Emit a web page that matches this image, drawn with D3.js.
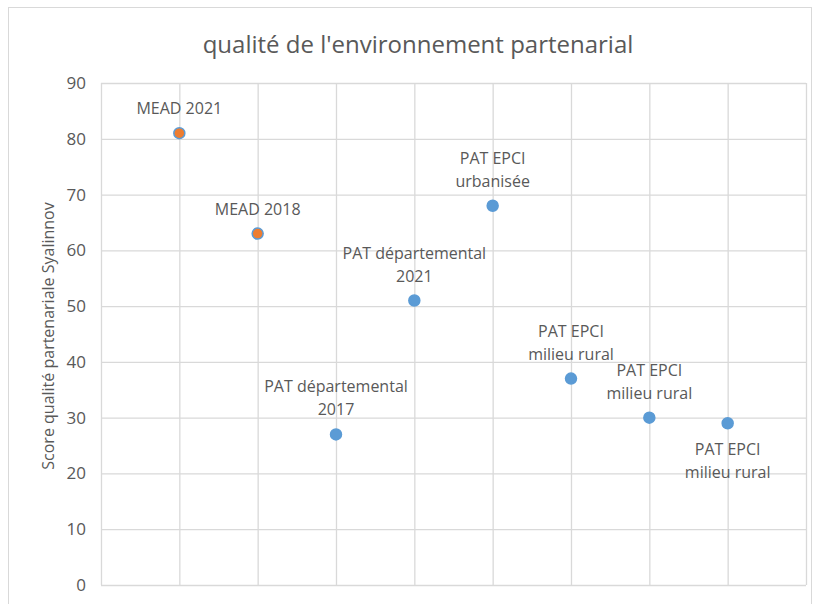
<!DOCTYPE html>
<html>
<head>
<meta charset="utf-8">
<script src="https://cdn.jsdelivr.net/npm/d3@7"></script>
<style>
  body { margin: 0; background: #fff; }
  text { font-family: "Open Sans", sans-serif; fill: #595959; }
</style>
</head>
<body>
<div id="chart"></div>
<script>
// data
var labels = [
  ["MEAD 2021"],
  ["MEAD 2018"],
  ["PAT départemental", "2017"],
  ["PAT départemental", "2021"],
  ["PAT EPCI", "urbanisée"],
  ["PAT EPCI", "milieu rural"],
  ["PAT EPCI", "milieu rural"],
  ["PAT EPCI", "milieu rural"]
];
var scores = [81, 63, 27, 51, 68, 37, 30, 29];
var isMead = [true, true, false, false, false, false, false, false];
var labelBelow = [false, false, false, false, false, false, false, true];
var yTicks = [0, 10, 20, 30, 40, 50, 60, 70, 80, 90];

var W = 815, H = 604;
var margin = { left: 101, right: 9, top: 83, bottom: 19 };

var svg = d3.select('#chart').append('svg')
  .attr('width', W)
  .attr('height', H);

// outer chart frame
svg.append('rect')
  .attr('x', 8.5).attr('y', 7.5)
  .attr('width', 803).attr('height', 620)
  .attr('fill', 'none')
  .attr('stroke', '#d9d9d9');

var x = d3.scaleLinear().domain([0, 9]).range([margin.left, W - margin.right]);
var y = d3.scaleLinear().domain([0, 90]).range([H - margin.bottom, margin.top]);

// horizontal gridlines + y ticks
var yAxis = svg.append('g')
  .attr('transform', 'translate(' + margin.left + ',0)')
  .call(d3.axisLeft(y).tickValues(yTicks)
    .tickSize(-(W - margin.right - margin.left))
    .tickPadding(15));
yAxis.select('.domain').remove();
yAxis.selectAll('line').attr('stroke', '#d9d9d9').attr('stroke-width', 1.3);
yAxis.selectAll('text').style('font-size', '17px').style('fill', '#595959');

// vertical gridlines
var xAxis = svg.append('g')
  .attr('transform', 'translate(0,' + (H - margin.bottom) + ')')
  .call(d3.axisBottom(x).tickValues(d3.range(0, 10))
    .tickSize(-(H - margin.bottom - margin.top))
    .tickFormat(''));
xAxis.select('.domain').remove();
xAxis.selectAll('line').attr('stroke', '#d9d9d9').attr('stroke-width', 1.3);

// title
svg.append('text')
  .attr('x', 418).attr('y', 53)
  .attr('text-anchor', 'middle')
  .style('font-size', '24px')
  .text("qualité de l'environnement partenarial");

// y axis title
svg.append('text')
  .attr('transform', 'translate(54,' + ((y(0) + y(90)) / 2 + 2) + ') rotate(-90)')
  .attr('text-anchor', 'middle')
  .style('font-size', '16px')
  .text('Score qualité partenariale Syalinnov');

// points
var pts = svg.append('g').selectAll('g')
  .data(scores)
  .enter().append('g');

pts.append('circle')
  .attr('cx', (d, i) => x(i + 1))
  .attr('cy', d => y(d))
  .attr('r', 5.5)
  .attr('fill', (d, i) => isMead[i] ? '#ed7d31' : '#5b9bd5')
  .attr('stroke', '#5b9bd5')
  .attr('stroke-width', 1.5);

// labels (one or two lines, above the point except the last one)
pts.each(function(d, i) {
  var lines = labels[i];
  var g = d3.select(this);
  lines.forEach(function(line, k) {
    var yy;
    if (labelBelow[i]) {
      yy = y(d) + 32 + k * 23;
    } else {
      yy = y(d) - 19 - (lines.length - 1 - k) * 23;
    }
    g.append('text')
      .attr('x', x(i + 1))
      .attr('y', yy)
      .attr('text-anchor', 'middle')
      .style('font-size', '16px')
      .text(line);
  });
});
</script>
</body>
</html>
